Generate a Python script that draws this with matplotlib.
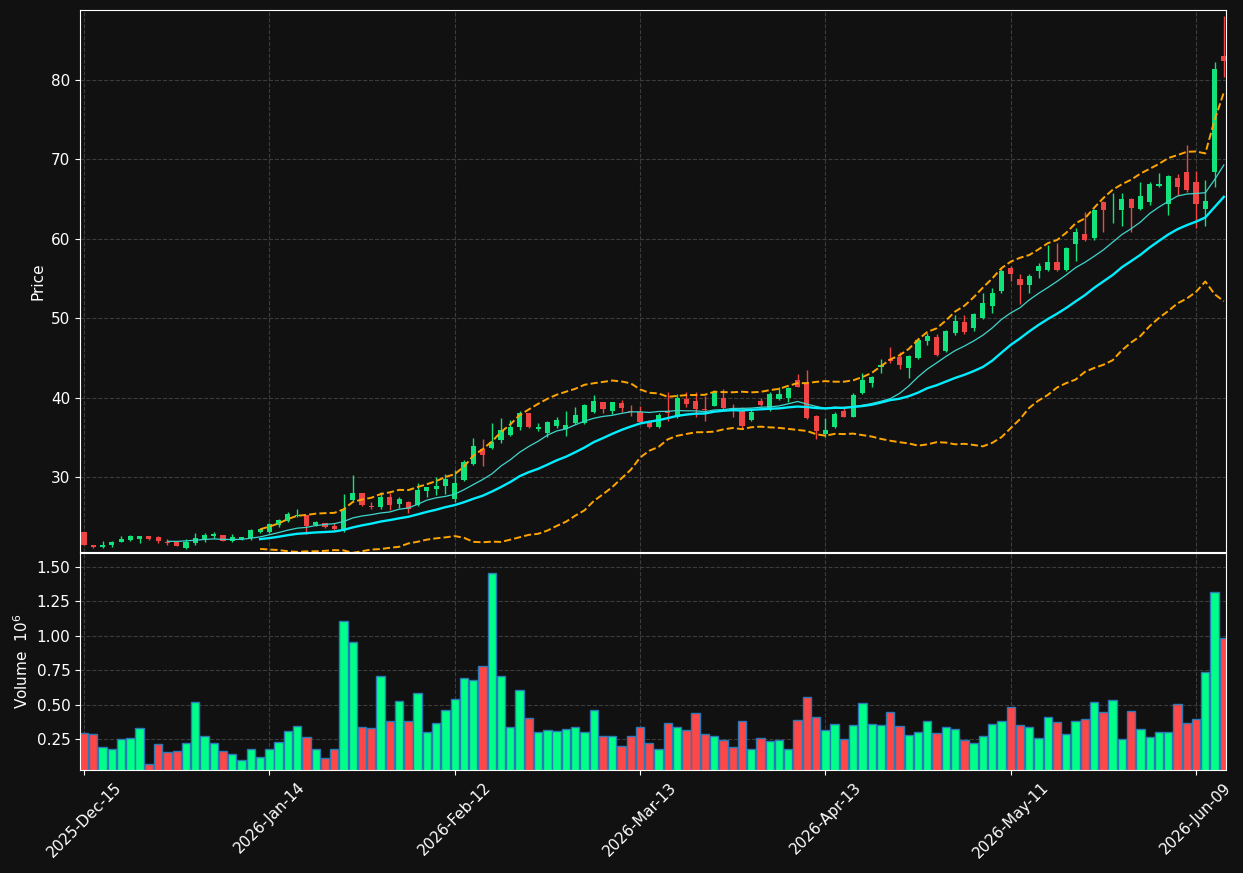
import numpy as np
import pandas as pd
import matplotlib
matplotlib.use("Agg")
import matplotlib.pyplot as plt

# daily OHLC (price units)
opens = [23.1, 21.4, 21.2, 21.5, 21.85, 22.1, 22.19, 22.56, 22.44, 21.85,
         21.85, 21.1, 21.73, 22.15, 22.6, 22.7, 21.98, 22.19, 22.27, 23.1,
         23.07, 24.0, 24.5, 25.05, 25.17, 24.0, 24.17, 23.79, 23.5, 27.15,
         27.99, 26.35, 26.27, 27.48, 26.64, 26.85, 26.43, 28.24, 28.53, 28.87,
         27.23, 29.58, 31.63, 33.48, 33.65, 34.66, 35.29, 36.34, 38.06, 36.04,
         35.58, 36.46, 36.08, 36.8, 36.84, 38.22, 39.44, 38.35, 39.32, 38.35,
         38.18, 37.0, 36.35, 38.36, 37.52, 39.79, 39.58, 38.57, 38.99, 39.95,
         38.74, 38.36, 37.18, 39.58, 38.44, 39.83, 39.99, 42.22, 41.72, 37.69,
         35.42, 36.34, 38.32, 37.6, 40.62, 41.88, 43.9, 44.86, 45.11, 43.77,
         44.99, 47.17, 47.59, 45.91, 48.18, 49.48, 48.81, 50.03, 51.58, 53.43,
         56.32, 54.94, 54.18, 55.99, 56.07, 57.04, 56.07, 59.39, 60.61, 60.06,
         64.64, 63.7, 63.63, 65.02, 63.76, 64.64, 66.7, 64.43, 67.62, 68.42,
         67.16, 63.76, 68.37, 83.03]
highs = [23.1, 21.45, 21.9, 22.0, 22.52, 22.73, 22.6, 22.6, 22.6, 22.19,
         21.9, 22.15, 23.0, 23.0, 23.1, 22.7, 22.8, 22.5, 23.4, 23.5,
         24.25, 24.75, 25.6, 25.93, 25.17, 24.5, 24.2, 24.17, 27.82, 30.25,
         28.0, 26.9, 28.07, 28.03, 27.53, 26.98, 29.2, 28.8, 29.96, 30.42,
         30.92, 32.14, 34.87, 34.74, 36.75, 37.38, 37.17, 38.31, 38.1, 36.75,
         37.0, 37.51, 38.31, 38.77, 39.19, 40.32, 39.5, 39.5, 39.69, 39.06,
         38.94, 37.2, 38.0, 40.67, 40.42, 40.75, 40.75, 40.2, 40.92, 41.05,
         39.16, 38.86, 38.74, 40.0, 40.71, 41.38, 41.38, 42.93, 43.48, 37.8,
         37.39, 38.15, 38.99, 40.54, 43.14, 42.76, 44.82, 46.33, 45.7, 45.37,
         47.55, 48.18, 47.97, 48.52, 50.41, 50.36, 50.7, 53.13, 53.76, 56.16,
         56.58, 55.61, 55.57, 56.91, 59.18, 59.43, 58.93, 61.41, 63.42, 63.71,
         64.7, 65.81, 65.73, 65.1, 67.12, 67.12, 68.25, 68.0, 68.17, 71.82,
         68.5, 67.41, 82.31, 88.1]
lows = [21.4, 21.05, 21.1, 21.2, 21.85, 21.98, 21.64, 22.1, 21.64, 21.47,
        21.3, 20.97, 21.5, 21.85, 22.36, 21.98, 21.8, 22.1, 22.06, 22.9,
        22.9, 23.66, 24.3, 24.92, 22.78, 23.83, 23.54, 23.3, 23.03, 27.0,
        26.4, 26.0, 25.97, 25.85, 26.05, 25.43, 26.3, 27.53, 27.74, 27.86,
        26.9, 29.55, 31.5, 31.42, 33.48, 34.32, 35.12, 35.87, 36.2, 35.75,
        35.08, 36.13, 35.2, 36.7, 36.7, 38.0, 38.1, 37.97, 38.22, 37.68,
        36.8, 36.2, 36.2, 37.1, 37.4, 38.86, 37.6, 37.1, 38.9, 38.6,
        37.52, 36.05, 37.0, 39.0, 38.36, 39.7, 39.41, 41.3, 37.3, 34.75,
        35.0, 36.13, 37.5, 37.5, 40.5, 41.38, 43.06, 44.32, 43.56, 42.43,
        44.82, 46.63, 45.28, 45.8, 47.84, 48.05, 48.35, 49.86, 50.7, 53.22,
        54.73, 51.79, 53.13, 55.0, 56.0, 55.9, 55.9, 57.25, 59.7, 59.85,
        60.9, 62.04, 61.66, 60.9, 63.6, 64.26, 66.49, 63.0, 65.52, 65.9,
        61.32, 61.66, 66.57, 80.4]
closes = [21.5, 21.2, 21.4, 21.8, 22.19, 22.56, 22.56, 22.19, 21.94, 21.75,
          21.35, 21.85, 22.31, 22.7, 22.86, 21.98, 22.4, 22.44, 23.32, 23.4,
          24.08, 24.59, 25.34, 25.2, 23.83, 24.33, 23.7, 23.5, 25.93, 27.99,
          26.52, 26.22, 27.48, 26.52, 27.23, 25.93, 28.37, 28.7, 28.87, 29.79,
          29.25, 31.89, 33.9, 32.77, 34.4, 35.92, 36.25, 38.06, 36.29, 36.29,
          36.92, 37.17, 36.55, 37.8, 39.06, 39.57, 38.6, 39.44, 38.73, 38.22,
          36.96, 36.35, 37.81, 38.02, 40.0, 39.2, 38.61, 38.44, 40.75, 38.74,
          38.44, 36.43, 38.15, 39.07, 40.46, 40.46, 41.25, 41.38, 37.48, 35.8,
          35.92, 37.94, 37.6, 40.33, 42.22, 42.6, 44.1, 44.65, 44.11, 45.24,
          47.3, 47.72, 45.41, 48.39, 49.65, 48.31, 50.53, 51.92, 53.18, 55.95,
          55.57, 54.18, 55.32, 56.58, 57.04, 56.07, 58.85, 60.86, 59.85, 63.63,
          63.63, 63.8, 65.02, 63.92, 65.4, 66.9, 66.95, 67.96, 66.57, 66.15,
          64.39, 64.76, 81.39, 82.4]
# volume in millions
volumes = [0.29, 0.284, 0.19, 0.18, 0.25, 0.26, 0.33, 0.066, 0.21, 0.153,
           0.16, 0.22, 0.517, 0.27, 0.22, 0.16, 0.14, 0.095, 0.175, 0.117,
           0.175, 0.226, 0.306, 0.342, 0.262, 0.175, 0.11, 0.18, 1.105, 0.953,
           0.335, 0.328, 0.706, 0.379, 0.524, 0.379, 0.582, 0.299, 0.364, 0.459,
           0.539, 0.691, 0.677, 0.778, 1.454, 0.706, 0.335, 0.604, 0.40, 0.299,
           0.313, 0.306, 0.32, 0.335, 0.299, 0.459, 0.27, 0.27, 0.197, 0.27,
           0.335, 0.22, 0.175, 0.364, 0.335, 0.313, 0.437, 0.284, 0.27, 0.24,
           0.19, 0.379, 0.18, 0.255, 0.233, 0.24, 0.18, 0.386, 0.553, 0.408,
           0.313, 0.357, 0.248, 0.35, 0.509, 0.357, 0.35, 0.444, 0.342, 0.277,
           0.299, 0.379, 0.29, 0.335, 0.32, 0.24, 0.22, 0.27, 0.357, 0.379,
           0.48, 0.35, 0.335, 0.255, 0.408, 0.371, 0.284, 0.379, 0.393, 0.517,
           0.444, 0.531, 0.248, 0.451, 0.32, 0.262, 0.299, 0.299, 0.502, 0.364,
           0.393, 0.735, 1.316, 0.982]

holidays = ["2025-12-25", "2026-01-01", "2026-01-19", "2026-02-16",
            "2026-04-03", "2026-05-25"]
days = pd.bdate_range("2025-12-15", "2026-06-30")
days = days[~days.isin(pd.to_datetime(holidays))][:len(closes)]

df = pd.DataFrame({"Open": opens, "High": highs, "Low": lows,
                   "Close": closes, "Volume": volumes}, index=days)
df["ma10"] = df["Close"].rolling(10).mean()
df["ma20"] = df["Close"].rolling(20).mean()
sd = df["Close"].rolling(20).std()
df["bb_up"] = df["ma20"] + 2 * sd
df["bb_lo"] = df["ma20"] - 2 * sd

bg = "#111111"
up_c, dn_c = "#12e27c", "#f04545"
vup_c, vdn_c = "#00ff88", "#ff4747"
grid_kw = dict(color="#3c3c3c", linestyle="--", linewidth=0.8)

fig = plt.figure(figsize=(12.43, 8.73), dpi=100, facecolor=bg)
ax = fig.add_axes([0.0644, 0.3677, 0.9219, 0.6208], facecolor=bg)
axv = fig.add_axes([0.0644, 0.1180, 0.9219, 0.2486], facecolor=bg, sharex=ax)

x = np.arange(len(df))
o, h, l, c = df["Open"].values, df["High"].values, df["Low"].values, df["Close"].values
up = c >= o
cols = np.where(up, up_c, dn_c)

ax.vlines(x, l, h, colors=cols, linewidth=1.0, zorder=2)
body = np.maximum(np.abs(c - o), 0.08)
ax.bar(x, body, bottom=np.minimum(o, c), width=0.55, color=cols, zorder=3)

ax.plot(x, df["ma10"], color="#3ed6cc", linewidth=0.9, zorder=4)
ax.plot(x, df["ma20"], color="#00eeff", linewidth=1.7, zorder=4)
ax.plot(x, df["bb_up"], color="orange", linestyle="--", linewidth=1.4, zorder=4)
ax.plot(x, df["bb_lo"], color="orange", linestyle="--", linewidth=1.4, zorder=4)

axv.bar(x, df["Volume"], width=0.9, color=np.where(up, vup_c, vdn_c),
        edgecolor="#2a7ab8", linewidth=1.0)

ax.set_xlim(-0.43, 123.23)
ax.set_ylim(20.56, 88.8)
axv.set_ylim(0.025, 1.60)
ax.set_yticks([30, 40, 50, 60, 70, 80])
axv.set_yticks([0.25, 0.5, 0.75, 1.0, 1.25, 1.5])
axv.set_yticklabels(["0.25", "0.50", "0.75", "1.00", "1.25", "1.50"])

ticks = list(range(0, len(df), 20))
axv.set_xticks(ticks)
axv.set_xticklabels([d.strftime("%Y-%b-%d") for d in days[ticks]],
                    rotation=45, ha="center")
ax.tick_params(axis="x", which="both", bottom=False, labelbottom=False)

ax.set_ylabel("Price", color="white", fontsize=11)
axv.set_ylabel("Volume  $10^{6}$", color="white", fontsize=11)

for a in (ax, axv):
    a.grid(True, **grid_kw)
    a.set_axisbelow(True)
    a.tick_params(colors="white", labelsize=11)
    for s in a.spines.values():
        s.set_color("white")

fig.savefig("out.png", dpi=100, facecolor=bg)
